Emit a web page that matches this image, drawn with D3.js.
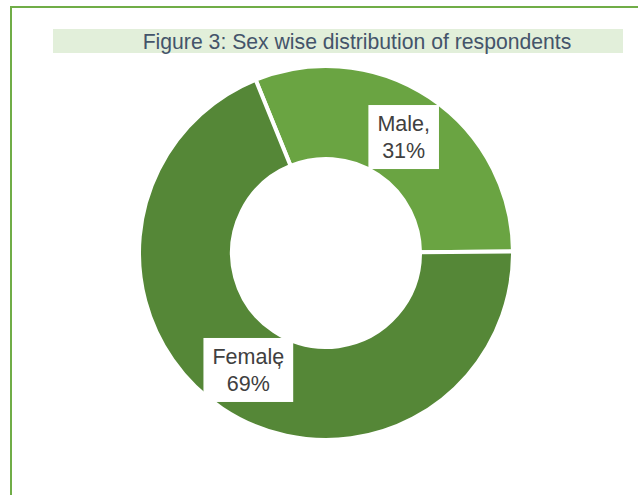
<!DOCTYPE html>
<html>
<head>
<meta charset="utf-8">
<script src="https://cdn.jsdelivr.net/npm/d3@7"></script>
<style>
  html, body { margin: 0; padding: 0; background: #fff; }
  svg { display: block; font-family: "Liberation Sans", Arial, sans-serif; }
</style>
</head>
<body>
<div id="chart"></div>
<script>
// data
const categories = ['Male', 'Female'];
const values = [31, 69];
const labelLines = [['Male,', '31%'], ['Female,', '69%']];
const title = 'Figure 3: Sex wise distribution of respondents';

const W = 638, H = 495;
const colors = ['#6aa442', '#558737'];
const cx = 326, cy = 253;

const svg = d3.select('#chart').append('svg')
    .attr('width', W)
    .attr('height', H);

// outer frame (runs off the right and bottom edge)
svg.append('rect')
    .attr('x', 11).attr('y', 7)
    .attr('width', 700).attr('height', 600)
    .attr('fill', 'none')
    .attr('stroke', '#70ad47')
    .attr('stroke-width', 2);

// title band
svg.append('rect')
    .attr('x', 53).attr('y', 29)
    .attr('width', 570).attr('height', 24)
    .attr('fill', '#e2efda');

svg.append('text')
    .attr('x', 357).attr('y', 49)
    .attr('text-anchor', 'middle')
    .style('font-size', '21.2px')
    .style('fill', '#44546a')
    .text(title);

// donut
const pie = d3.pie()
    .sort(null)
    .startAngle(-22.1 * Math.PI / 180)
    .endAngle((360 - 22.1) * Math.PI / 180);

const arcs = pie(values);

const arc = d3.arc().innerRadius(94).outerRadius(187);
const labelArc = d3.arc().innerRadius(140).outerRadius(140);

const g = svg.append('g').attr('transform', `translate(${cx},${cy})`);

g.selectAll('path.slice')
    .data(arcs)
    .enter().append('path')
    .attr('class', 'slice')
    .attr('d', arc)
    .attr('fill', (d, i) => colors[i])
    .attr('stroke', '#fff')
    .attr('stroke-width', 4)
    .attr('stroke-linejoin', 'miter');

// data labels with white boxes
const lineH = 27;
arcs.forEach((d, i) => {
    const [lx, ly] = labelArc.centroid(d);
    const lg = g.append('g').attr('transform', `translate(${lx},${ly})`);
    const box = lg.append('rect').attr('fill', '#fff');
    const t = lg.append('text')
        .attr('text-anchor', 'middle')
        .style('font-size', '21.5px')
        .style('fill', '#404040');
    const lines = labelLines[i];
    lines.forEach((s, k) => {
        const ts = t.append('tspan')
            .attr('x', 0)
            .attr('y', (k - (lines.length - 1) / 2) * lineH + 8)
            .text(s);
        // Excel wrapped the comma of "Female," under its last letter
        if (categories[i] === 'Female' && k === 0) {
            const n = s.length;
            ts.attr('dx', d3.range(n).map(j => j === n - 1 ? -8 : 0).join(' '))
              .attr('dy', d3.range(n).map(j => j === n - 1 ? 2 : 0).join(' '));
        }
    });
    const bb = t.node().getBBox();
    box.attr('x', bb.x - 9).attr('y', bb.y - 7)
        .attr('width', bb.width + 18).attr('height', bb.height + 13);
});
</script>
</body>
</html>
